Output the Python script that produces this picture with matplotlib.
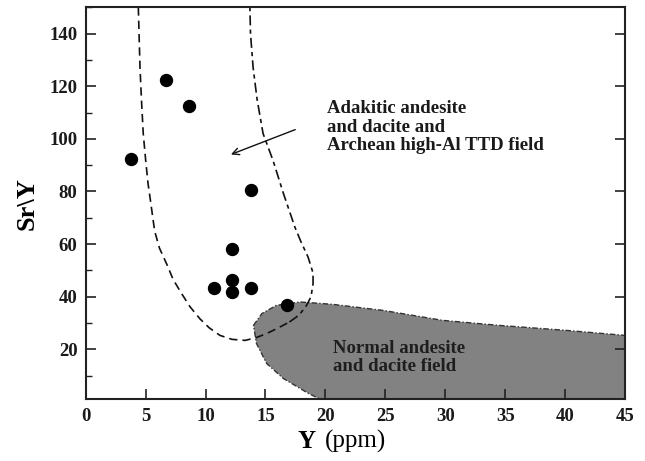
import matplotlib
matplotlib.use("Agg")
import matplotlib.pyplot as plt
from matplotlib.ticker import MultipleLocator

plt.rcParams['font.family'] = ['Liberation Serif', 'DejaVu Serif']

# sample points (Y ppm, Sr/Y)
y_ppm = [3.8, 6.7, 8.6, 13.8, 12.2, 10.7, 12.2, 12.2, 13.8, 16.8]
sr_y = [92.5, 122.2, 112.4, 80.7, 58.0, 43.3, 46.2, 41.8, 43.3, 36.7]

# adakite / high-Al TTD field boundary (left + lower part, dashed)
adak_left_x = [4.39, 4.45, 4.53, 4.65, 4.8, 5.0, 5.2, 5.4, 5.75, 6.15, 6.75, 7.3,
               8.0, 8.7, 9.53, 10.3, 11.2, 12.2, 13.3, 14.2, 15.1, 16.0, 17.0]
adak_left_y = [150, 140, 127, 115, 102, 92, 83, 76.6, 65, 58.5, 52.5, 46.5,
               41.2, 36.2, 31.6, 28.2, 25.3, 23.8, 23.4, 24.4, 26.0, 28.0, 30.4]
# right part (dash-dot)
adak_right_x = [17.0, 17.8, 18.4, 18.8, 18.97, 18.97, 18.55, 17.95, 17.45,
                16.5, 15.63, 14.8, 14.3, 13.97, 13.75, 13.7]
adak_right_y = [30.4, 33.0, 36.5, 40.0, 45.0, 49.0, 55.1, 61.0, 66.5,
                79.2, 91.8, 102, 115, 127, 140, 150]

# normal andesite / dacite field
norm_x = [14.0, 14.7, 15.9, 17.9, 20.6, 24.8, 29.8, 34.5, 40.1, 45.0, 45.0,
          19.6, 18.6, 17.9, 16.5, 15.1, 14.25]
norm_y = [29.1, 33.6, 36.7, 38.0, 37.1, 34.8, 31.0, 29.1, 27.2, 25.3, 1.0,
          1.0, 3.2, 5.1, 8.9, 14.6, 22.2]

fig = plt.figure(figsize=(6.45, 4.61), dpi=100)
ax = fig.add_axes([0.1329, 0.1338, 0.8361, 0.8503])

ax.fill(norm_x, norm_y, facecolor='#828282', edgecolor='#333333',
        linewidth=1.0, linestyle=(0, (4, 1.5, 1, 1.5)), zorder=1)

ax.plot(adak_left_x, adak_left_y, color='#111111', lw=1.2,
        linestyle=(0, (5, 3)), zorder=2)
ax.plot(adak_right_x, adak_right_y, color='#111111', lw=1.2,
        linestyle=(0, (6, 2.5, 2.5, 2.5)), zorder=2)

ax.scatter(y_ppm, sr_y, s=74, color='black', zorder=3)

ax.annotate('', xy=(11.9, 93.7), xytext=(17.7, 103.9),
            arrowprops=dict(arrowstyle='->', color='#111111', lw=1.0,
                            mutation_scale=12))

ax.text(20.1, 104.5, 'Adakitic andesite\nand dacite and\nArchean high-Al TTD field',
        fontsize=13.5, fontweight='bold', color='#1a1a1a', ha='left', va='center',
        linespacing=1.12)
ax.text(20.6, 17.0, 'Normal andesite\nand dacite field',
        fontsize=13.5, fontweight='bold', color='#1e1e1e', ha='left', va='center',
        linespacing=1.1)

ax.set_xlim(0, 45)
ax.set_ylim(1, 150)
ax.xaxis.set_major_locator(MultipleLocator(5))
ax.set_yticks([20, 40, 60, 80, 100, 120, 140])
ax.yaxis.set_minor_locator(MultipleLocator(10))

ax.tick_params(which='major', direction='in', length=7, width=1.2,
               right=True, top=False, labelsize=13.5, color='#222222', pad=6)
ax.tick_params(which='minor', direction='in', length=4, width=1.0,
               right=False, top=False, color='#222222')
for lab in ax.get_xticklabels() + ax.get_yticklabels():
    lab.set_fontweight('bold')
    lab.set_color('#1a1a1a')

for sp in ax.spines.values():
    sp.set_linewidth(1.5)
    sp.set_color('#222222')

ax.set_ylabel(r'Sr\Y', fontsize=19, fontweight='bold', labelpad=8)
fig.text(0.461, 0.043, 'Y', fontsize=18, fontweight='bold', ha='left', va='center')
fig.text(0.503, 0.043, '(ppm)', fontsize=18, ha='left', va='center')

fig.savefig('out.png', dpi=100)
